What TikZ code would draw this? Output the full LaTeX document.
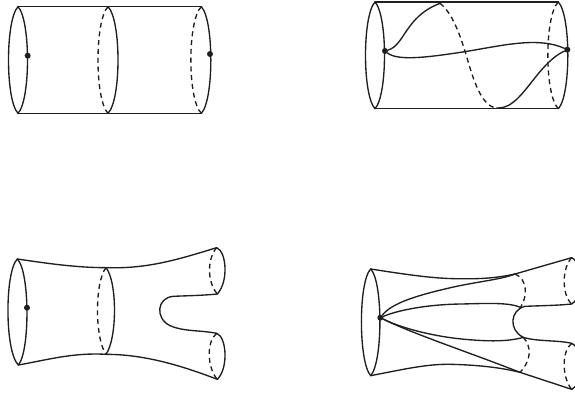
\documentclass[tikz,border=0pt]{standalone}
\tikzset{
  ln/.style={line width=1.35pt,color=black!88,line cap=round,line join=round},
  dsh/.style={line width=1.35pt,color=black!88,dash pattern=on 5pt off 3.8pt},
  pt/.style={circle,fill=black!88,inner sep=0pt,minimum size=6pt},
  zoomA/.style={xshift=0pt,yshift=0pt,x=0.33333pt,y=-0.33333pt},
  zoomB/.style={xshift=355pt,yshift=0pt,x=0.33333pt,y=-0.33333pt},
  zoomC/.style={xshift=0pt,yshift=-235pt,x=0.33333pt,y=-0.33333pt},
  zoomD/.style={xshift=355pt,yshift=-245pt,x=0.33333pt,y=-0.33333pt}
}
\begin{document}
\begin{tikzpicture}[x=1pt,y=-1pt]
\useasboundingbox (0,0) rectangle (575,394);
\clip (0,0) rectangle (575,394);
% Panel 1
\begin{scope}[zoomA]
\coordinate (a1) at (54,20); \coordinate (a2) at (54,340);
\coordinate (a3) at (324,20); \coordinate (a4) at (324,340);
\coordinate (a5) at (604,20); \coordinate (a6) at (604,340);
\node[pt] (ap) at (83,167) {}; \node[pt] (aq) at (630,162) {};
\draw[ln] (a1) -- (a3) -- (a5) (a2) -- (a4) -- (a6);
\draw[ln] (a1) .. controls (16,60) and (16,300) .. (a2);
\draw[ln] (a1) .. controls (92,60) and (92,300) .. (a2);
\draw[ln] (a3) .. controls (364,60) and (364,300) .. (a4);
\draw[dsh] (a3) .. controls (284,60) and (284,300) .. (a4);
\draw[ln] (a5) .. controls (642,60) and (642,300) .. (a6);
\draw[dsh] (a5) .. controls (562,60) and (562,300) .. (a6);
\end{scope}
% Panel 2
\begin{scope}[zoomB]
\coordinate (b1) at (60,6); \coordinate (b2) at (60,326);
\coordinate (b5) at (610,6); \coordinate (b6) at (610,326);
\coordinate (bt) at (255,10); \coordinate (bb) at (425,324);
\node[pt] (bp) at (90,153) {}; \node[pt] (bq) at (637,149) {};
\draw[ln] (b1) -- (b5) (b2) -- (b6);
\draw[ln] (b1) .. controls (22,46) and (22,286) .. (b2);
\draw[ln] (b1) .. controls (98,46) and (98,286) .. (b2);
\draw[ln] (b5) .. controls (648,46) and (648,286) .. (b6);
\draw[dsh] (b5) .. controls (568,46) and (568,286) .. (b6);
\draw[ln] (bp) .. controls (150,135) and (150,50) .. (bt);
\draw[dsh] (bt) .. controls (295,40) and (320,120) .. (335,170) .. controls (355,240) and (380,320) .. (bb);
\draw[ln] (bb) .. controls (500,330) and (540,195) .. (bq);
\draw[ln] (bp) .. controls (130,185) and (230,170) .. (330,155) .. controls (450,135) and (550,110) .. (bq);
\end{scope}
% Panel 3
\begin{scope}[zoomC]
\coordinate (c1) at (52,72); \coordinate (c2) at (55,390);
\coordinate (c3) at (318,98); \coordinate (c4) at (318,358);
\coordinate (c5) at (650,38); \coordinate (c6) at (652,177);
\coordinate (c7) at (650,295); \coordinate (c8) at (652,433);
\node[pt] (cp) at (81,218) {};
\draw[ln] (c1) .. controls (140,85) and (230,98) .. (c3) .. controls (440,102) and (530,75) .. (c5);
\draw[ln] (c2) .. controls (140,375) and (220,352) .. (c4) .. controls (430,358) and (540,390) .. (c8);
\draw[ln] (c1) .. controls (14,110) and (14,350) .. (c2);
\draw[ln] (c1) .. controls (90,110) and (90,350) .. (c2);
\draw[ln] (c3) .. controls (352,140) and (352,310) .. (c4);
\draw[dsh] (c3) .. controls (284,140) and (284,310) .. (c4);
\draw[ln] (c5) .. controls (680,50) and (686,140) .. (c6);
\draw[dsh] (c5) .. controls (622,70) and (620,140) .. (c6);
\draw[ln] (c7) .. controls (680,305) and (686,400) .. (c8);
\draw[dsh] (c7) .. controls (618,320) and (622,400) .. (c8);
\draw[ln] (c6) .. controls (600,182) and (560,182) .. (520,184) .. controls (470,188) and (465,250) .. (510,272) .. controls (550,290) and (600,285) .. (c7);
\end{scope}
% Panel 4
\begin{scope}[zoomD]
\coordinate (d1) at (47,72); \coordinate (d2) at (47,392);
\coordinate (d3) at (480,87); \coordinate (d4) at (497,187);
\coordinate (d5) at (505,277); \coordinate (d6) at (495,382);
\coordinate (d7) at (650,38); \coordinate (d8) at (650,177);
\coordinate (d9) at (650,295); \coordinate (d10) at (650,433);
\node[pt] (dp) at (76,218) {};
\draw[ln] (d1) .. controls (10,110) and (10,350) .. (d2);
\draw[ln] (d1) .. controls (84,110) and (84,350) .. (d2);
\draw[ln] (d1) .. controls (150,88) and (230,100) .. (300,101) .. controls (380,103) and (430,98) .. (d3) -- (d7);
\draw[ln] (d2) .. controls (150,372) and (220,356) .. (290,358) .. controls (370,360) and (440,368) .. (d6) -- (d10);
\draw[ln] (d7) .. controls (690,60) and (690,150) .. (d8);
\draw[dsh] (d7) .. controls (620,70) and (620,150) .. (d8);
\draw[ln] (d9) .. controls (690,315) and (690,410) .. (d10);
\draw[dsh] (d9) .. controls (618,320) and (622,400) .. (d10);
\draw[ln] (d8) .. controls (600,182) and (550,182) .. (510,184) .. controls (465,195) and (460,255) .. (505,277) .. controls (545,290) and (610,285) .. (d9);
\draw[dsh] (d3) .. controls (515,100) and (520,150) .. (d4);
\draw[dsh] (d5) .. controls (530,305) and (530,345) .. (d6);
\draw[ln] (dp) .. controls (110,175) and (180,152) .. (300,125) .. controls (380,108) and (440,103) .. (d3);
\draw[ln] (dp) .. controls (130,195) and (220,178) .. (320,177) .. controls (400,175) and (460,172) .. (d4);
\draw[ln] (dp) .. controls (130,245) and (220,272) .. (320,282) .. controls (400,290) and (460,290) .. (d5);
\draw[ln] (dp) .. controls (170,265) and (350,325) .. (d6);
\end{scope}
\end{tikzpicture}
\end{document}
